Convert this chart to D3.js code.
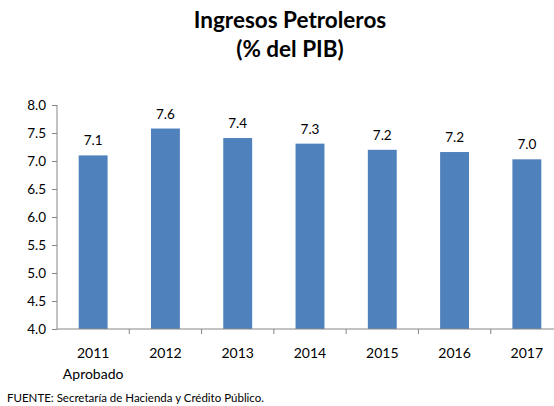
<!DOCTYPE html>
<html lang="es">
<head>
  <meta charset="UTF-8">
  <title>Ingresos Petroleros</title>
  <script src="https://d3js.org/d3.v7.min.js"></script>
  <style>
    body { margin: 0; background: #fff; }
    svg { display: block; font-family: Lato, "Open Sans", sans-serif; }
  </style>
</head>
<body>
<svg></svg>
<script>
  // datos
  const years = ["2011", "2012", "2013", "2014", "2015", "2016", "2017"];
  const values = [7.1, 7.58, 7.41, 7.31, 7.2, 7.16, 7.03];
  const yTicks = [4.0, 4.5, 5.0, 5.5, 6.0, 6.5, 7.0, 7.5, 8.0];

  const width = 554, height = 406;
  const svg = d3.select("svg").attr("width", width).attr("height", height);

  const x = d3.scaleBand().domain(years).range([57, 563]).paddingInner(0.6).paddingOuter(0.3);
  const y = d3.scaleLinear().domain([4, 8]).range([329, 105]);

  // titulo
  svg.append("text").attr("x", 290).attr("y", 28).attr("text-anchor", "middle")
    .attr("font-size", 22.5).attr("font-weight", "bold").text("Ingresos Petroleros");
  svg.append("text").attr("x", 290).attr("y", 57).attr("text-anchor", "middle")
    .attr("font-size", 22.5).attr("font-weight", "bold").text("(% del PIB)");

  // barras
  svg.selectAll("rect.bar").data(values).join("rect")
    .attr("class", "bar")
    .attr("x", (d, i) => x(years[i]))
    .attr("y", d => y(d))
    .attr("width", x.bandwidth())
    .attr("height", d => y(4) - y(d))
    .attr("fill", "#4F81BD");

  svg.selectAll("text.val").data(values).join("text")
    .attr("class", "val")
    .attr("x", (d, i) => x(years[i]) + x.bandwidth() / 2)
    .attr("y", d => y(d) - 10)
    .attr("text-anchor", "middle")
    .attr("font-size", 13.5)
    .text(d => d3.format(".1f")(d));

  // eje y
  const yAxis = svg.append("g").attr("transform", "translate(57,0)")
    .call(d3.axisLeft(y).tickValues(yTicks).tickFormat(d3.format(".1f")).tickSize(5).tickPadding(6));
  yAxis.selectAll("path, line").attr("stroke", "#868686");
  yAxis.select(".domain").attr("d", "M0,105V329");
  yAxis.selectAll("text").attr("font-size", 13.5).attr("fill", "#000").attr("font-family", "Lato, sans-serif");

  // eje x
  const xStep = x.step();
  const xAxis = svg.append("g");
  xAxis.append("line").attr("x1", 57).attr("x2", 563).attr("y1", 329).attr("y2", 329)
    .attr("stroke", "#868686");
  xAxis.selectAll("line.tick").data(d3.range(1, years.length)).join("line")
    .attr("class", "tick")
    .attr("x1", d => 57 + d * xStep).attr("x2", d => 57 + d * xStep)
    .attr("y1", 329).attr("y2", 334).attr("stroke", "#868686");
  xAxis.selectAll("text.yr").data(years).join("text")
    .attr("class", "yr")
    .attr("x", d => x(d) + x.bandwidth() / 2)
    .attr("y", 358)
    .attr("text-anchor", "middle")
    .attr("font-size", 14)
    .text(d => d);
  xAxis.append("text")
    .attr("x", x("2011") + x.bandwidth() / 2).attr("y", 379)
    .attr("text-anchor", "middle").attr("font-size", 14).text("Aprobado");

  // fuente
  svg.append("text").attr("x", 7).attr("y", 402).attr("font-size", 11.5)
    .text("FUENTE: Secretaría de Hacienda y Crédito Público.");
</script>
</body>
</html>
